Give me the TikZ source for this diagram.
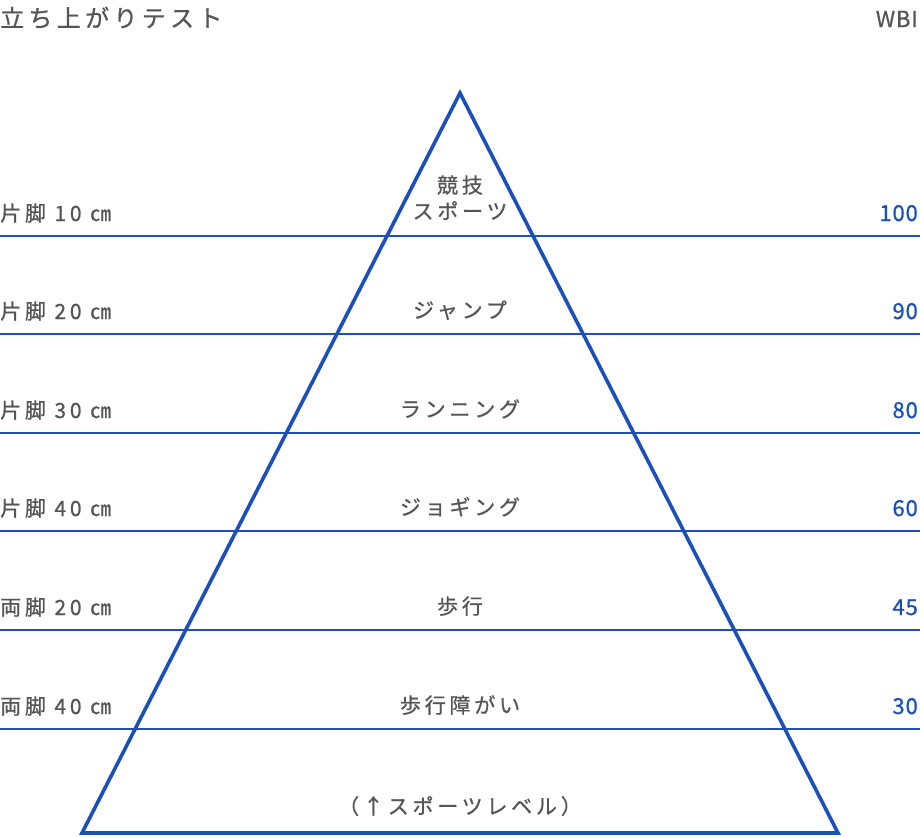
\documentclass[tikz,border=0pt]{standalone}
\usepackage{fontspec}
\newfontfamily\jp[FakeBold=0.8,LetterSpace=18]{Noto Sans CJK JP}
\newfontfamily\jpn[FakeBold=0.8,LetterSpace=4]{Noto Sans CJK JP}
\definecolor{pb}{HTML}{1A50B8}
\definecolor{tg}{HTML}{555555}
\begin{document}
\begin{tikzpicture}[x=1pt,y=-1pt,
  lab/.style={font=\jp\fontsize{21}{24}\selectfont, text=tg, inner sep=0pt},
  num/.style={font=\jpn\fontsize{22}{24}\selectfont, text=pb, inner sep=0pt, anchor=base east},
  hl/.style={draw=pb, line width=1.4pt}]
\useasboundingbox (0,0) rectangle (920,836);
\node[lab, anchor=base west, font=\jp\fontsize{24}{26}\selectfont] (title) at (0,27) {立ち上がりテスト};
\node[lab, anchor=base east, font=\jpn\fontsize{22}{26}\selectfont] (wbi) at (918,27) {WBI};
\foreach \y/\l/\n [count=\i] in {236/片脚 10 ㎝/100, 334/片脚 20 ㎝/90, 433/片脚 30 ㎝/80, 531/片脚 40 ㎝/60, 630/両脚 20 ㎝/45, 729/両脚 40 ㎝/30}{
  \coordinate (L\i) at (0,\y);
  \coordinate (R\i) at (920,\y);
  \draw[hl] (L\i) -- (R\i);
  \node[lab, anchor=base west] (lt\i) at (0,\y-15) {\l};
  \node[num] (nt\i) at (918,\y-15) {\n};
}
\coordinate (A) at (460,93);
\coordinate (B) at (82,833);
\coordinate (C) at (838,833);
\draw[draw=pb, line width=3.6pt, line join=miter] (A) -- (C) -- (B) -- cycle;
\node[lab, anchor=base] (c0a) at (460,193) {競技};
\node[lab, anchor=base] (c0b) at (460,219) {スポーツ};
\node[lab, anchor=base] (c1) at (460,318) {ジャンプ};
\node[lab, anchor=base] (c2) at (460,417) {ランニング};
\node[lab, anchor=base] (c3) at (460,515) {ジョギング};
\node[lab, anchor=base] (c4) at (460,614) {歩行};
\node[lab, anchor=base] (c5) at (460,713) {歩行障がい};
\node[lab, anchor=base] (c6) at (460,814) {（↑スポーツレベル）};
\end{tikzpicture}
\end{document}
